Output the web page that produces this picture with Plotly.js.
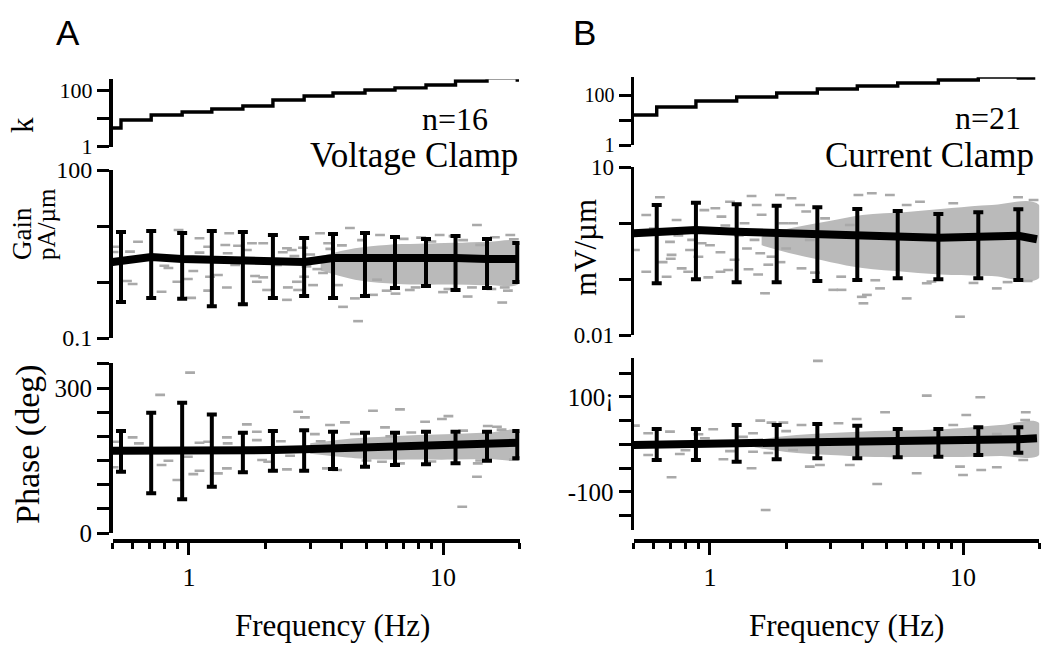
<!DOCTYPE html>
<html>
<head>
<meta charset="utf-8">
<script src="https://cdn.plot.ly/plotly-3.0.1.min.js"></script>
<style>html,body{margin:0;padding:0;background:#fff;}#chart{width:1050px;height:645px;}</style>
</head>
<body>
<div id="chart"></div>
<script>
// ---------------- DATA : panel A (voltage clamp) ----------------
const freqA = [0.54, 0.71, 0.94, 1.23, 1.63, 2.14, 2.84, 3.69, 4.93, 6.47, 8.57, 11.2, 14.9, 19.6];
const kFreqA = [0.5, 0.54, 0.71, 0.94, 1.23, 1.63, 2.14, 2.84, 3.69, 4.93, 6.47, 8.57, 11.2, 14.9, 19.6];
const kValA  = [4.6, 8.8, 13.2, 16.8, 21.5, 27.4, 44.7, 61.8, 79, 101, 119, 151, 209, 269, 195];

const gainMeanA = [2.37, 2.79, 2.58, 2.47, 2.37, 2.37, 2.28, 2.68, 2.73, 2.68, 2.68, 2.68, 2.58, 2.58];
const gainStartA = 2.28, gainEndA = 2.58;
const gainHiA = [7.81, 8.14, 7.50, 8.14, 7.81, 6.90, 6.11, 7.20, 7.50, 6.36, 5.86, 6.63, 5.86, 4.97];
const gainLoA = [0.44, 0.52, 0.50, 0.37, 0.40, 0.52, 0.56, 0.52, 0.56, 0.78, 0.85, 0.72, 0.78, 1.00];

const phaseMeanA = [170.3, 168.2, 171.7, 171.7, 170.3, 171.7, 173.2, 175.3, 176.5, 177.3, 178.6, 180.6, 183.5, 186.8];
const phaseStartA = 170.3, phaseEndA = 187;
const phaseHiA = [211, 249, 269.6, 245.6, 207.5, 211, 213, 209.6, 207.5, 207.5, 209.6, 209.6, 209.6, 211];
const phaseLoA = [126.8, 82.1, 69.7, 95.8, 125.6, 128.9, 128.9, 132.4, 137.2, 140.7, 142.1, 144.2, 149.6, 154.6];

// individual cells (gray dashes)
const cellGainFreqA = [0.507,0.505,0.63,0.586,0.57,0.60,0.78,0.91,0.80,0.83,0.90,0.99,1.02,1.04,1.10,1.10,1.19,1.21,1.19,1.30,
  1.44,1.39,1.42,1.41,1.52,1.56,1.69,1.77,1.82,1.85,1.96,1.96,2.03,2.22,2.34,2.43,2.45,2.54,2.66,2.69,
  2.81,2.84,2.43,4.63,4.30,13.6,17.1,3.28,3.53,4.04,4.5,18.4,5.65,9.7,12.5,3.37,3.08,3.86,5.3,7.4,
  4.0,4.8,5.5,6.0,7.0,7.8,9.0,10.5,12,13,16,17.5,19,11,15.5,
  3.0,3.2,2.9,3.6,2.6,6.5,8.2,10,14,18];
const cellGainA = [4.27,3.43,5.24,3.48,1.04,0.92,0.67,8.5,1.95,1.78,1.01,1.13,0.52,1.57,6.03,3.34,4.27,1.24,0.70,1.33,
  7.4,4.58,3.26,0.80,2.01,4.45,3.73,4.91,1.28,1.01,4.91,1.21,0.72,2.01,3.39,4.0,0.80,3.73,1.01,0.72,
  4.1,1.24,0.48,0.20,9.2,10.4,0.43,7.4,4.91,0.36,0.51,6.9,6.9,6.9,0.55,1.45,0.88,0.88,0.59,0.72,
  4.5,5.6,1.1,0.7,5.9,0.8,5.3,0.75,5.6,0.8,6.3,0.8,5.8,6.6,0.75,
  3.1,1.7,1.9,3.9,2.9,0.62,6.2,0.66,4.6,0.7];
const cellPhaseFreqA = [0.77,1.01,0.507,0.505,0.60,0.635,0.78,0.83,0.90,0.99,1.04,1.10,1.10,1.19,1.30,1.41,1.42,1.41,1.69,1.85,
  1.85,1.94,2.05,2.43,2.69,2.86,3.13,3.49,3.59,4.11,3.83,5.3,5.91,6.77,8.5,9.9,10.5,13.6,11.9,15.0,
  16.3,13.7,5.75,6.77,4.5,5,7.5,9,12,14,17,19,3.3,2.3,2.5,6.2];
const cellPhaseA = [286,332,189,136,198,185.6,140.7,149.6,109.7,157.9,122,128.9,186.8,189,123.5,133.9,185.6,198,225,209.6,
  192.4,151,147.5,131.8,251,239.4,204.8,133.9,223.5,229,130.4,253,218.7,256,230.3,235.9,242,116.5,54.4,221.4,
  220,144.2,147.5,144.2,205,150,208,148,212,150,214,152,190,190,160,200];
// dense cloud envelope
const bandGainFreqA = [3.3, 4.5, 6, 8, 11, 15, 20];
const bandGainHiA = [2.9, 4.0, 4.6, 4.8, 5.0, 5.2, 5.0];
const bandGainLoA = [1.6, 1.1, 0.95, 0.9, 0.9, 0.88, 0.95];
const bandPhaseFreqA = [3.0, 4.5, 6, 8, 11, 15, 20];
const bandPhaseHiA = [186, 196, 200, 203, 205, 208, 210];
const bandPhaseLoA = [164, 155, 152, 152, 152, 153, 155];

// ---------------- DATA : panel B (current clamp) ----------------
const freqB = [0.616, 0.88, 1.275, 1.835, 2.656, 3.821, 5.52, 7.99, 11.49, 16.54];
const kFreqB = [0.5, 0.616, 0.88, 1.275, 1.835, 2.656, 3.821, 5.52, 7.99, 11.49, 16.54, 19.3];
const kValB  = [15.8, 33.1, 57.5, 83.2, 120, 174, 229, 302, 398, 525, 479, 479];

const gainMeanB = [0.70, 0.75, 0.70, 0.671, 0.655, 0.636, 0.593, 0.546, 0.569, 0.593];
const gainStartB = 0.655, gainEndB = 0.512;
const gainHiB = [2.10, 2.30, 2.16, 2.04, 1.91, 1.78, 1.64, 1.45, 1.55, 1.76];
const gainLoB = [0.0838, 0.0988, 0.0873, 0.0873, 0.0921, 0.096, 0.103, 0.0988, 0.103, 0.096];

const phaseMeanB = [-1.1, 0.4, 2.5, 3.8, 4.6, 4.6, 4.6, 5.9, 8.0, 10.9];
const phaseStartB = -1.1, phaseEndB = 13;
const phaseHiB = [32.6, 32.6, 41, 41, 43.2, 39.6, 32.6, 32.6, 36.2, 36.2];
const phaseLoB = [-32.6, -32.6, -36.2, -31.2, -29.1, -29.1, -26.9, -25.7, -22.1, -17.3];

const cellGainFreqB = [0.634,0.505,0.56,0.56,0.674,0.695,0.705,0.738,0.773,0.82,0.834,0.927,0.985,1.05,1.10,1.11,1.18,1.37,1.42,1.46,
  1.53,1.58,1.65,1.89,1.95,2.10,2.13,2.27,2.30,2.48,2.85,3.07,3.31,3.57,3.86,3.98,4.17,4.36,4.04,4.70,
  5.14,5.99,7.19,9.73,13.6,16.5,19.0,5.99,6.76,9.15,
  0.65,0.9,1.0,1.25,1.5,1.7,2.0,2.2,1.3,0.75,0.6,1.6,2.4,1.2,0.95,
  1.1,1.4,1.75,0.7,0.85,1.15,1.55,1.9,2.6,3.3,4.5,7.5,11,15,18];
const cellGainB = [2.88,0.33,1.39,0.135,0.11,0.46,0.27,1.13,0.155,0.135,0.33,0.434,0.107,1.83,0.135,1.30,0.145,0.99,0.149,3.03,
  2.10,0.288,0.0556,3.16,0.99,2.76,0.99,2.10,0.155,0.50,1.21,0.064,0.064,0.92,3.16,0.048,0.052,3.39,0.0368,0.068,
  3.16,0.045,0.084,0.0212,0.068,2.88,2.57,2.10,2.40,2.25,
  0.2,0.25,0.4,0.22,0.5,0.18,0.35,0.7,0.6,0.6,0.8,1.4,1.6,2.4,1.7,
  0.3,0.35,0.25,0.23,0.5,0.9,0.12,0.2,0.13,0.11,0.095,0.09,0.085,0.088,0.092];
const cellPhaseFreqB = [7.19,11.7,4.92,3.80,10.3,17.7,17.6,0.505,1.58,0.705,1.46,2.48,2.72,3.57,4.58,6.56,10.0,11.8,13.6,1.66,
  9.73,17.3,1.13,0.76,0.695,0.90,1.03,1.75,1.95,2.30,3.22,9.15,13.6,0.57,0.57,0.955,1.48,1.48,2.13,2.67,
  1.2,1.35,1.7,0.8,2.0];
const cellPhaseB = [102.8,99.4,67.8,53.7,62.1,67.8,51.6,39.6,50.1,-69,-50.1,-46.7,-43.2,-43.2,-83.2,-60.6,-64.2,-53.7,-48,-137.9,
  -46.7,-32.6,-31.2,-20,27,21.5,32,45.9,45.9,41,44.6,41,22.1,-22.1,23.6,13,23.6,-15.2,-11.6,176,
  -14,16,-18,-12,28];
const bandGainFreqB = [1.6, 2.2, 3, 4, 6, 9, 13, 20];
const bandGainHiB = [0.62, 0.85, 1.1, 1.39, 1.57, 1.85, 2.10, 2.10];
const bandGainLoB = [0.4, 0.27, 0.2, 0.157, 0.134, 0.118, 0.113, 0.104];
const bandPhaseFreqB = [1.5, 2.0, 3, 4.5, 7, 10, 14, 20];
const bandPhaseHiB = [8, 17.9, 24.2, 28.4, 30.5, 34.7, 41, 45.3];
const bandPhaseLoB = [-6, -15.8, -22.1, -26.3, -26.3, -26.3, -24.2, -22.1];

// tick labels
const xTickVals = [1, 10], xTickText = ['1', '10'];
const xMinorVals = [0.5,0.6,0.7,0.8,0.9,2,3,4,5,6,7,8,9,20];
const kTickVals = [1, 10, 100], kTickText = ['1', '', '100'];
const gainTickValsA = [0.1, 1, 10, 100], gainTickTextA = ['0.1', '', '', '100'];
const gainTickValsB = [0.01, 0.1, 1, 10], gainTickTextB = ['0.01', '', '', '10'];
const phaseTickValsA = [0,50,100,150,200,250,300,350], phaseTickTextA = ['0','','','','','','300',''];
const phaseTickValsB = [-150,-100,-50,0,50,100,150], phaseTickTextB = ['','-100','','','','100¡',''];

// ---------------- drawing ----------------
const W = 1050, H = 645;
const SERIF = 'Liberation Serif, Times New Roman, serif';
const GRAY = '#a9a9a9', BAND = '#bababa';
const px = v => v / W, py = v => (H - v) / H;

function band(f, hi, lo, xa, ya) {
  return {type:'scatter', mode:'lines', x:f.concat(f.slice().reverse()), y:hi.concat(lo.slice().reverse()),
    fill:'toself', fillcolor:BAND, line:{width:0, color:BAND, shape:'spline'}, xaxis:xa, yaxis:ya, hoverinfo:'skip'};
}
function dashes(x, y, xa, ya) {
  return {type:'scatter', mode:'markers', x:x, y:y, xaxis:xa, yaxis:ya,
    marker:{symbol:'line-ew', size:7, color:GRAY, line:{width:2.6, color:GRAY}}, hoverinfo:'skip'};
}
function meanLine(f, m, s, e, endF, xa, ya) {
  return {type:'scatter', mode:'lines', x:[0.5].concat(f, [endF]), y:[s].concat(m, [e]), xaxis:xa, yaxis:ya,
    line:{color:'black', width:8}, hoverinfo:'skip'};
}
function errBars(f, m, hi, lo, xa, ya) {
  return {type:'scatter', mode:'markers', x:f, y:m, xaxis:xa, yaxis:ya, marker:{size:1, color:'black'},
    error_y:{type:'data', symmetric:false, array:hi.map((h,i)=>h-m[i]), arrayminus:lo.map((l,i)=>m[i]-l),
      color:'black', thickness:4, width:5}, hoverinfo:'skip'};
}
function kLine(f, k, xa, ya) {
  return {type:'scatter', mode:'lines', x:f, y:k, xaxis:xa, yaxis:ya, line:{color:'black', width:3.4, shape:'hv'}, hoverinfo:'skip'};
}

const data = [
  kLine(kFreqA, kValA, 'x', 'y'),
  band(bandGainFreqA, bandGainHiA, bandGainLoA, 'x', 'y2'),
  dashes(cellGainFreqA, cellGainA, 'x', 'y2'),
  meanLine(freqA, gainMeanA, gainStartA, gainEndA, 19.8, 'x', 'y2'),
  errBars(freqA, gainMeanA, gainHiA, gainLoA, 'x', 'y2'),
  band(bandPhaseFreqA, bandPhaseHiA, bandPhaseLoA, 'x', 'y3'),
  dashes(cellPhaseFreqA, cellPhaseA, 'x', 'y3'),
  meanLine(freqA, phaseMeanA, phaseStartA, phaseEndA, 19.8, 'x', 'y3'),
  errBars(freqA, phaseMeanA, phaseHiA, phaseLoA, 'x', 'y3'),

  kLine(kFreqB, kValB, 'x2', 'y4'),
  band(bandGainFreqB, bandGainHiB, bandGainLoB, 'x2', 'y5'),
  dashes(cellGainFreqB, cellGainB, 'x2', 'y5'),
  meanLine(freqB, gainMeanB, gainStartB, gainEndB, 19.6, 'x2', 'y5'),
  errBars(freqB, gainMeanB, gainHiB, gainLoB, 'x2', 'y5'),
  band(bandPhaseFreqB, bandPhaseHiB, bandPhaseLoB, 'x2', 'y6'),
  dashes(cellPhaseFreqB, cellPhaseB, 'x2', 'y6'),
  meanLine(freqB, phaseMeanB, phaseStartB, phaseEndB, 19.6, 'x2', 'y6'),
  errBars(freqB, phaseMeanB, phaseHiB, phaseLoB, 'x2', 'y6')
];

function xAxis(x0, x1) {
  return {type:'log', range:[Math.log10(0.5), Math.log10(20)], domain:[px(x0), px(x1)], anchor:'free', position:py(540),
    showline:true, linewidth:3.5, linecolor:'black', ticks:'outside', ticklen:12, tickwidth:3, tickcolor:'black',
    tickmode:'array', tickvals:xTickVals, ticktext:xTickText, tickfont:{family:SERIF, size:26, color:'black'},
    minor:{tickmode:'array', tickvals:xMinorVals, ticks:'outside', ticklen:6, tickwidth:3, tickcolor:'black', showgrid:false},
    showgrid:false, zeroline:false, fixedrange:true};
}
function yAxis(xpos, top, bottom, type, range, tv, tt, size) {
  return {type:type, range:range, domain:[py(bottom), py(top)], anchor:'free', position:px(xpos),
    showline:true, linewidth:3.5, linecolor:'black', ticks:'outside', ticklen:12, tickwidth:3, tickcolor:'black',
    tickmode:'array', tickvals:tv, ticktext:tt, tickfont:{family:SERIF, size:size, color:'black'},
    showgrid:false, zeroline:false, fixedrange:true};
}

const txt = (t, x, y, size, opts) => Object.assign({text:t, xref:'paper', yref:'paper', x:px(x), y:py(y),
  xanchor:'center', yanchor:'middle', showarrow:false, font:{family:SERIF, size:size, color:'black'}}, opts || {});

const layout = {
  width:W, height:H, autosize:false, margin:{l:0, r:0, t:0, b:0},
  paper_bgcolor:'white', plot_bgcolor:'white', showlegend:false,
  xaxis: xAxis(112.5, 519.5),
  xaxis2: xAxis(633.8, 1039.2),
  yaxis:  yAxis(110, 79.3, 146.7, 'log', [0, 2.38], kTickVals, kTickText, 22),
  yaxis2: yAxis(110, 170, 338, 'log', [-1, 2], gainTickValsA, gainTickTextA, 24),
  yaxis3: yAxis(110, 363, 533, 'linear', [0, 352], phaseTickValsA, phaseTickTextA, 25),
  yaxis4: yAxis(631.5, 77.3, 145, 'log', [0, 2.71], kTickVals, kTickText, 20),
  yaxis5: yAxis(631.5, 167, 335, 'log', [-2, 1], gainTickValsB, gainTickTextB, 23),
  yaxis6: yAxis(631.5, 358, 530, 'linear', [-180, 182], phaseTickValsB, phaseTickTextB, 25),
  annotations: [
    txt('A', 68, 33, 34, {font:{family:'Liberation Sans, Arial, sans-serif', size:35, color:'black'}}),
    txt('B', 584, 33, 34, {font:{family:'Liberation Sans, Arial, sans-serif', size:35, color:'black'}}),
    txt('n=16', 455, 119, 32),
    txt('Voltage Clamp', 414, 155, 35),
    txt('n=21', 988, 118, 32),
    txt('Current Clamp', 929, 155, 35),
    txt('k', 22, 125, 31, {textangle:-90}),
    txt('Gain', 22, 234, 27, {textangle:-90}),
    txt('pA/µm', 46, 224, 25, {textangle:-90}),
    txt('Phase (deg)', 28, 444, 34, {textangle:-90}),
    txt('mV/µm', 585, 248, 31, {textangle:-90}),
    txt('Frequency (Hz)', 333, 625, 31),
    txt('Frequency (Hz)', 846, 625, 31)
  ]
};

Plotly.newPlot('chart', data, layout, {displayModeBar:false, staticPlot:true});
</script>
</body>
</html>
